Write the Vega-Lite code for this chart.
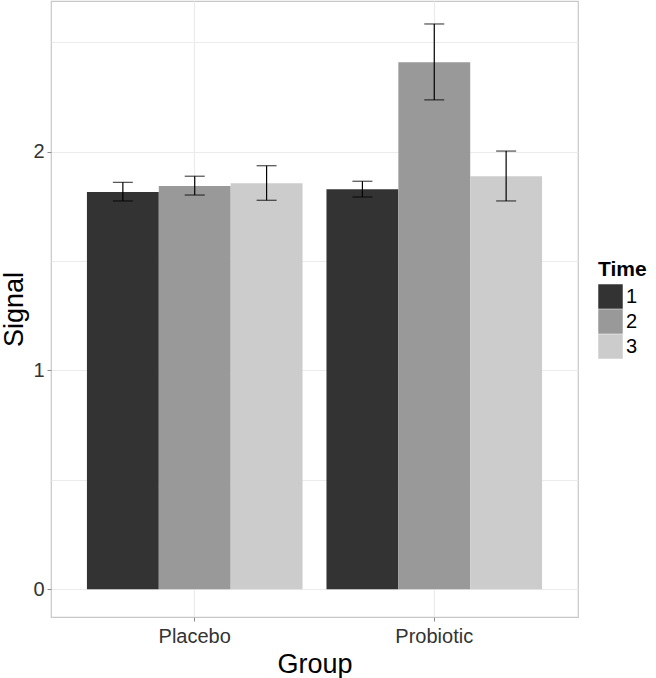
{
  "$schema": "https://vega.github.io/schema/vega-lite/v6.json",
  "width": 527,
  "height": 616,
  "autosize": "none",
  "padding": {"left": 51, "top": 1, "right": 78, "bottom": 61},
  "background": "white",
  "config": {
    "font": "Liberation Sans",
    "view": {"stroke": "#c8c8c8", "strokeWidth": 1.2},
    "axis": {
      "domain": false,
      "gridColor": "#ebebeb",
      "gridWidth": 1.2,
      "tickColor": "#8c8c8c",
      "tickSize": 4,
      "labelFontSize": 20,
      "labelColor": "#333333",
      "titleFontSize": 27,
      "titleFontWeight": "normal",
      "titleColor": "#000000"
    }
  },
  "data": {
    "values": [
      {"Group": "Placebo", "Time": "1", "Signal": 1.816, "lo": 1.775, "hi": 1.860},
      {"Group": "Placebo", "Time": "2", "Signal": 1.843, "lo": 1.802, "hi": 1.888},
      {"Group": "Placebo", "Time": "3", "Signal": 1.856, "lo": 1.778, "hi": 1.936},
      {"Group": "Probiotic", "Time": "1", "Signal": 1.828, "lo": 1.793, "hi": 1.865},
      {"Group": "Probiotic", "Time": "2", "Signal": 2.409, "lo": 2.237, "hi": 2.584},
      {"Group": "Probiotic", "Time": "3", "Signal": 1.888, "lo": 1.775, "hi": 2.003}
    ]
  },
  "encoding": {
    "x": {
      "field": "Group",
      "type": "nominal",
      "scale": {"paddingInner": 0.1, "paddingOuter": 0.15},
      "axis": {
        "title": "Group",
        "labelAngle": 0,
        "grid": true,
        "bandPosition": 0.5,
        "labelPadding": 5,
        "titlePadding": 5
      }
    },
    "xOffset": {"field": "Time", "type": "nominal", "scale": {"paddingInner": 0, "paddingOuter": 0}}
  },
  "layer": [
    {
      "mark": {"type": "bar"},
      "encoding": {
        "y": {
          "field": "Signal",
          "type": "quantitative",
          "scale": {"domain": [-0.127, 2.689], "nice": false, "zero": false},
          "axis": {
            "title": "Signal",
            "values": [0, 0.5, 1, 1.5, 2, 2.5],
            "labelExpr": "datum.value % 1 === 0 ? format(datum.value, 'd') : ''",
            "tickOpacity": {"condition": {"test": "datum.value % 1 !== 0", "value": 0}, "value": 1},
            "labelPadding": 3,
            "titlePadding": 4
          }
        },
        "color": {
          "field": "Time",
          "type": "nominal",
          "scale": {"domain": ["1", "2", "3"], "range": ["#333333", "#999999", "#cccccc"]},
          "legend": {
            "title": "Time",
            "orient": "none",
            "legendX": 547,
            "legendY": 258,
            "titleFontSize": 21,
            "titleFontWeight": "bold",
            "titleColor": "#000000",
            "titlePadding": 4,
            "labelFontSize": 20,
            "labelColor": "#000000",
            "labelOffset": 3,
            "symbolType": "square",
            "symbolSize": 600,
            "symbolStrokeWidth": 0,
            "symbolOpacity": 1,
            "rowPadding": 0,
            "padding": 0
          }
        }
      }
    },
    {
      "mark": {"type": "rule", "color": "#000000", "strokeWidth": 1.2},
      "encoding": {
        "y": {"field": "lo", "type": "quantitative"},
        "y2": {"field": "hi"}
      }
    },
    {
      "mark": {"type": "tick", "color": "#000000", "size": 20, "thickness": 1.2, "orient": "horizontal"},
      "encoding": {"y": {"field": "lo", "type": "quantitative"}}
    },
    {
      "mark": {"type": "tick", "color": "#000000", "size": 20, "thickness": 1.2, "orient": "horizontal"},
      "encoding": {"y": {"field": "hi", "type": "quantitative"}}
    }
  ]
}
